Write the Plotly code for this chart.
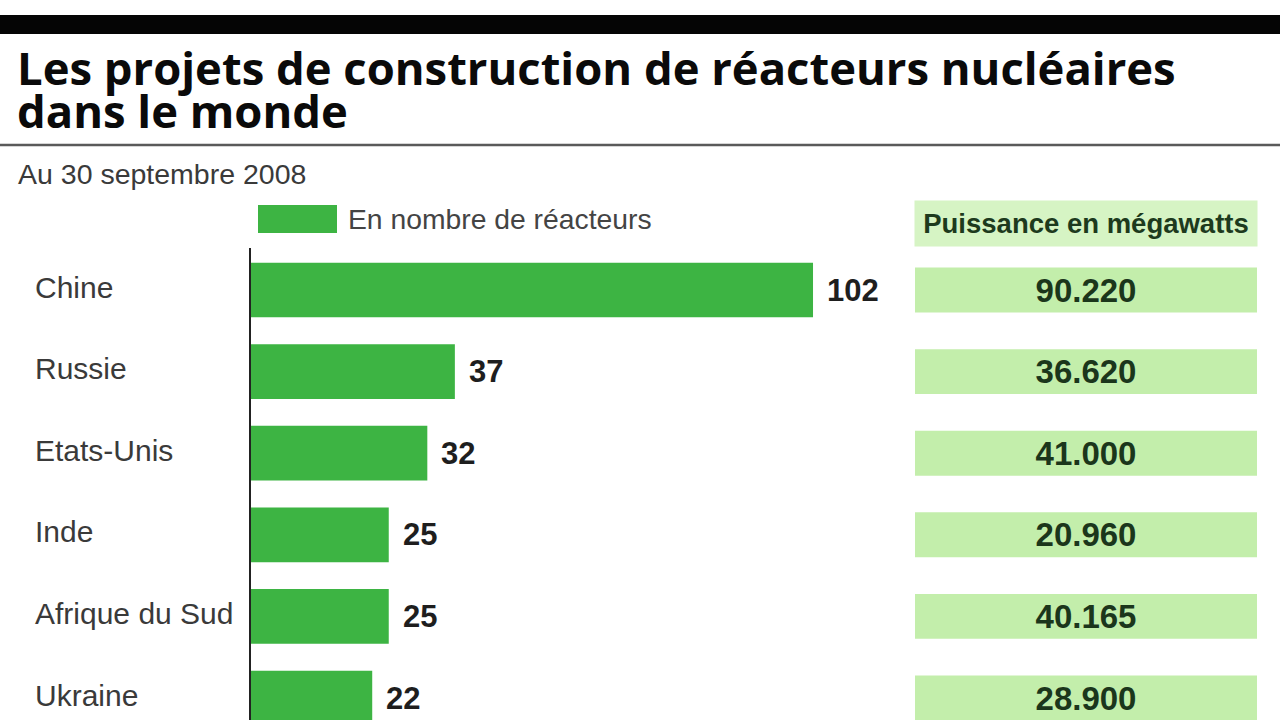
import plotly.graph_objects as go

# ---- data ----
pays = ["Chine", "Russie", "Etats-Unis", "Inde", "Afrique du Sud", "Ukraine"]
reacteurs = [102, 37, 32, 25, 25, 22]
puissance_mw = [90220, 36620, 41000, 20960, 40165, 28900]

titre_l1 = "Les projets de construction de réacteurs nucléaires"
titre_l2 = "dans le monde"
sous_titre = "Au 30 septembre 2008"
legende = "En nombre de réacteurs"
entete_droite = "Puissance en mégawatts"

W, H = 1280, 720
TOP = 248  # top of plot area in px
PH = H - TOP

def py(Y):
    return (H - Y) / PH

def px(X):
    return X / W

BAR = "#3db443"
BOX = "#c3eeab"
HEAD = "#d6f4c4"
SANS = "Liberation Sans, Arial, sans-serif"
TITLE_FONT = "Open Sans, sans-serif"

fmt = [f"{v:,}".replace(",", ".") for v in puissance_mw]

fig = go.Figure()
fig.add_trace(go.Bar(
    y=pays, x=reacteurs, orientation="h", width=0.67,
    marker=dict(color=BAR, line=dict(width=0)),
    xaxis="x", yaxis="y", hoverinfo="skip", showlegend=False,
))
fig.add_trace(go.Bar(
    y=pays, x=[1] * len(pays), orientation="h", width=0.55,
    marker=dict(color=BOX, line=dict(width=0)),
    text=fmt, textposition="inside", insidetextanchor="middle",
    textangle=0, constraintext="none",
    textfont=dict(family=SANS, size=33, color="#1b361b", weight="bold"),
    xaxis="x2", yaxis="y", hoverinfo="skip", showlegend=False,
))

anns = []
# value labels next to bars
for p, v in zip(pays, reacteurs):
    anns.append(dict(x=v, y=p, xref="x", yref="y", text=str(v), showarrow=False,
                     xanchor="left", yanchor="middle", xshift=12,
                     font=dict(family=SANS, size=31, color="#1e1e1e", weight="bold")))
# category labels, left aligned
for p in pays:
    anns.append(dict(x=px(33), y=p, xref="paper", yref="y", text=p, showarrow=False,
                     xanchor="left", yanchor="middle", yshift=3,
                     font=dict(family=SANS, size=30, color="#3a3a3a")))
# title (two lines)
anns.append(dict(x=px(15), y=py(67), xref="paper", yref="paper", text=titre_l1,
                 showarrow=False, xanchor="left", yanchor="middle",
                 font=dict(family=TITLE_FONT, size=45.4, color="#0a0a0a", weight="bold")))
anns.append(dict(x=px(15), y=py(110), xref="paper", yref="paper", text=titre_l2,
                 showarrow=False, xanchor="left", yanchor="middle",
                 font=dict(family=TITLE_FONT, size=45.4, color="#0a0a0a", weight="bold")))
# subtitle
anns.append(dict(x=px(16), y=py(174), xref="paper", yref="paper", text=sous_titre,
                 showarrow=False, xanchor="left", yanchor="middle",
                 font=dict(family=SANS, size=28.5, color="#3a3a3a")))
# legend text
anns.append(dict(x=px(346), y=py(219), xref="paper", yref="paper", text=legende,
                 showarrow=False, xanchor="left", yanchor="middle",
                 font=dict(family=SANS, size=28.3, color="#444444")))
# right header
anns.append(dict(x=px(1086), y=py(223), xref="paper", yref="paper", text=entete_droite,
                 showarrow=False, xanchor="center", yanchor="middle",
                 width=342, height=45, bgcolor=HEAD, borderpad=0,
                 font=dict(family=SANS, size=27.5, color="#1d3a1d", weight="bold")))

shapes = [
    dict(type="rect", xref="paper", yref="paper", x0=0, x1=1, y0=py(34), y1=py(15),
         fillcolor="#050505", line=dict(width=0)),
    dict(type="line", xref="paper", yref="paper", x0=0, x1=1, y0=py(145), y1=py(145),
         line=dict(color="#5a5a5a", width=2.5)),
    dict(type="rect", xref="paper", yref="paper", x0=px(258), x1=px(337), y0=py(233), y1=py(205),
         fillcolor=BAR, line=dict(width=0)),
]

fig.update_layout(
    width=W, height=H,
    margin=dict(l=0, r=0, t=TOP, b=0, pad=0),
    paper_bgcolor="white", plot_bgcolor="white",
    barmode="overlay",
    xaxis=dict(domain=[px(251), px(900)], range=[0, (900 - 251) / 5.51],
               visible=False, fixedrange=True),
    xaxis2=dict(domain=[px(915), px(1257)], range=[0, 1], anchor="y",
                visible=False, fixedrange=True),
    yaxis=dict(type="category", categoryorder="array", categoryarray=pays,
               range=[(720 - 290) / 81.6, (248 - 290) / 81.6],
               showticklabels=False, showgrid=False, zeroline=False,
               showline=True, linecolor="#222222", linewidth=2, ticks="",
               anchor="x", fixedrange=True),
    annotations=anns, shapes=shapes,
)

fig.write_html("out.html")
